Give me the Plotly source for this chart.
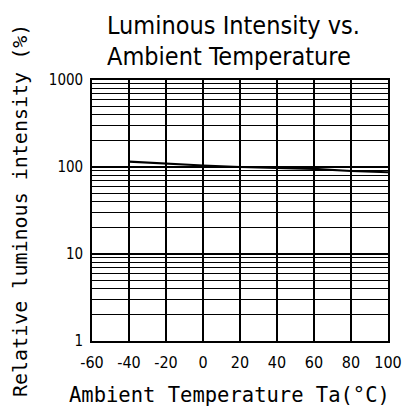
import plotly.graph_objects as go

# Data
temperature_c = [-40, -20, 0, 20, 40, 60, 80, 100]
relative_intensity = [115, 109, 104, 100, 97, 95, 90, 87]

x_tick_vals = [-60, -40, -20, 0, 20, 40, 60, 80, 100]
x_tick_text = ["-60", "-40", "-20", "0", "20", "40", "60", "80", "100"]
y_tick_vals = [1, 10, 100, 1000]
y_tick_text = ["1", "10", "100", "1000"]

title_lines = ["Luminous Intensity vs.", "Ambient Temperature"]
x_title = "Ambient Temperature Ta(°C)"
y_title = "Relative luminous intensity (%)"

W, H = 411, 412
L, R, T, B = 92, 23, 80, 71
PW, PH = W - L - R, H - T - B

def px(x):
    return (x - L) / PW

def py(y):
    return (H - B - y) / PH

narrow = "DejaVu Sans Condensed, sans-serif"

fig = go.Figure()
fig.add_trace(go.Scatter(
    x=temperature_c, y=relative_intensity, mode="lines",
    line=dict(color="black", width=2.2), showlegend=False, hoverinfo="skip"))

fig.update_layout(
    width=W, height=H,
    margin=dict(l=L, r=R, t=T, b=B, autoexpand=False),
    paper_bgcolor="white", plot_bgcolor="white",
    showlegend=False,
)
fig.update_xaxes(
    range=[-60, 100], tickvals=x_tick_vals, ticktext=x_tick_text,
    showgrid=True, gridcolor="black", gridwidth=1.6,
    showline=True, linecolor="black", linewidth=1.6, mirror=True,
    zeroline=False, ticks="outside", ticklen=6, tickcolor="white",
    tickfont=dict(family=narrow, size=16, color="black"), automargin=False,
)
fig.update_yaxes(
    type="log", range=[0, 3], tickvals=y_tick_vals, ticktext=y_tick_text,
    showgrid=True, gridcolor="black", gridwidth=1.6,
    minor=dict(dtick="D1", showgrid=True, gridcolor="black", gridwidth=1.2),
    showline=True, linecolor="black", linewidth=1.6, mirror=True,
    zeroline=False, ticks="outside", ticklen=4, tickcolor="white",
    tickfont=dict(family=narrow, size=15, color="black"), automargin=False,
)

annos = [
    dict(text=title_lines[0], x=px(105), y=py(25)),
    dict(text=title_lines[1], x=px(105), y=py(57)),
]
for a in annos:
    fig.add_annotation(text=a["text"], x=a["x"], y=a["y"], xref="paper", yref="paper",
                       xanchor="left", yanchor="middle", showarrow=False,
                       font=dict(family=narrow, size=25, color="black"))

fig.add_annotation(text=x_title, x=px(229), y=py(395), xref="paper", yref="paper",
                   xanchor="center", yanchor="middle", showarrow=False,
                   font=dict(family="DejaVu Sans Mono, monospace", size=20.5, color="black"))
fig.add_annotation(text=y_title, x=px(20), y=py(211), xref="paper", yref="paper",
                   xanchor="center", yanchor="middle", showarrow=False, textangle=-90,
                   font=dict(family="DejaVu Sans Mono, monospace", size=20, color="black"))

fig.write_html("out.html", config={"displayModeBar": False},
               post_script="document.body.style.margin='0';")
